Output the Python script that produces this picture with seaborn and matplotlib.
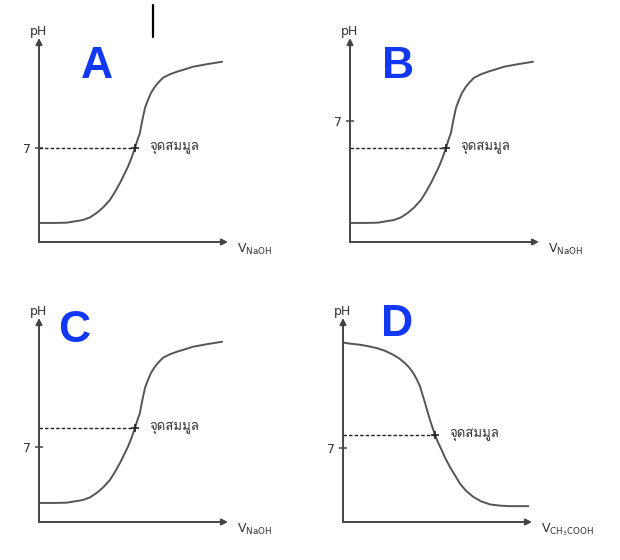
import matplotlib
matplotlib.use("Agg")
import matplotlib.pyplot as plt
import seaborn as sns
from matplotlib import font_manager
from matplotlib.lines import Line2D

# ---- data ----
panel_names = ["A", "B", "C", "D"]
x_titles = [r"V$_{\mathrm{NaOH}}$", r"V$_{\mathrm{NaOH}}$", r"V$_{\mathrm{NaOH}}$",
            r"V$_{\mathrm{CH_3COOH}}$"]

# rising curve (A, B, C): volume of titrant vs pH
v_rise = [0.0, 0.89, 1.54, 2.44, 2.83, 3.2, 3.56, 3.94, 4.22, 4.5, 4.72, 4.94,
          5.14, 5.33, 5.47, 5.61, 5.69, 5.78, 5.89, 6.06, 6.22, 6.44, 6.67, 6.89,
          7.28, 7.67, 8.11, 8.56, 9.33, 10.17]
ph_rise = [1.42, 1.42, 1.44, 1.64, 1.83, 2.16, 2.57, 3.13, 3.73, 4.4, 5.0, 5.6,
           6.27, 7.0, 7.6, 8.13, 8.73, 9.33, 10.0, 10.6, 11.1, 11.57, 11.94, 12.24,
           12.5, 12.69, 12.87, 13.06, 13.25, 13.43]

# falling curve (D)
v_fall = [0.0, 0.44, 0.94, 1.39, 1.87, 2.33, 2.79, 3.11, 3.44, 3.69, 3.91, 4.11,
          4.28, 4.42, 4.56, 4.69, 4.83, 4.97, 5.11, 5.28, 5.48, 5.69, 5.94, 6.22,
          6.5, 6.83, 7.24, 7.67, 8.17, 8.72, 9.28, 10.3]
ph_fall = [13.37, 13.28, 13.21, 13.1, 12.96, 12.76, 12.46, 12.2, 11.84, 11.49,
           11.09, 10.6, 10.1, 9.48, 8.86, 8.25, 7.61, 7.05, 6.49, 5.93, 5.37, 4.74,
           4.1, 3.48, 2.86, 2.33, 1.87, 1.54, 1.31, 1.22, 1.18, 1.18]

eq_v = [5.33, 5.33, 5.33, 5.11]
eq_ph = [7.0, 7.0, 7.0, 6.49]
seven_pos = [7.0, 9.0, 5.6, 5.5]
eq_label = "จุดสมมูล"

# ---- layout (pixels, origin of each panel's axes) ----
FIG_W, FIG_H = 620, 560
origins = [(39, 242), (350, 242), (39, 522), (343, 522)]
AX_W, AX_H = 189, 204
letter_pos = [(3.2, 13.05), (2.67, 13.1), (1.94, 14.3), (3.0, 14.7)]

sns.set_style("white")

thai_font = "DejaVu Sans"
for f in font_manager.fontManager.ttflist:
    if any(k in f.name for k in ["Thai", "Loma", "Garuda", "Waree", "Norasi",
                                 "Kinnari", "Sarabun", "Umpush", "Tlwg", "Laksaman"]):
        thai_font = f.name
        break
plt.rcParams["font.family"] = ["DejaVu Sans"]

AXIS_C = "#444444"
CURVE_C = "#555555"
TEXT_C = "#333333"
BLUE = "#1238F5"

fig = plt.figure(figsize=(FIG_W / 100, FIG_H / 100), dpi=100)

for i, name in enumerate(panel_names):
    ox, oy = origins[i]
    ax = fig.add_axes([ox / FIG_W, (FIG_H - oy) / FIG_H, AX_W / FIG_W, AX_H / FIG_H])
    ax.set_xlim(0, 10.5)
    ax.set_ylim(0, 15.2)
    ax.patch.set_alpha(0)
    for s in ax.spines.values():
        s.set_visible(False)

    if name == "D":
        xs, ys = v_fall, ph_fall
    else:
        xs, ys = v_rise, ph_rise
    sns.lineplot(x=xs, y=ys, ax=ax, color=CURVE_C, lw=1.4, sort=False)

    # axes arrows
    arrow = dict(arrowstyle="-|>", color=AXIS_C, lw=1.4, mutation_scale=9,
                 shrinkA=0, shrinkB=0)
    ax.annotate("", xy=(10.5, 0), xytext=(0, 0), arrowprops=arrow,
                annotation_clip=False)
    ax.annotate("", xy=(0, 15.2), xytext=(0, 0), arrowprops=arrow,
                annotation_clip=False)

    # equivalence point
    ax.hlines(eq_ph[i], 0, eq_v[i], colors="#222222", lw=1.0,
              linestyles=(0, (2.5, 1.5)))
    ax.plot([eq_v[i]], [eq_ph[i]], marker="+", ms=6, mew=1.2, color="#222222")
    ax.text(eq_v[i] + 0.8, eq_ph[i], eq_label, family=[thai_font, "DejaVu Sans"],
            fontsize=9.5, color=TEXT_C, ha="left", va="center")

    # tick "7"
    ax.set_xticks([])
    ax.set_yticks([seven_pos[i]])
    ax.set_yticklabels(["7"])
    ax.tick_params(axis="y", direction="inout", length=6, width=1.1,
                   color=AXIS_C, labelsize=9, labelcolor=TEXT_C, pad=3, left=True)

    ax.text(-0.05, 15.7, "pH", fontsize=9, color=TEXT_C, ha="center", va="center")
    ax.text(11.0, -0.8, x_titles[i], fontsize=9, color=TEXT_C, ha="left",
            va="baseline")

    lx, ly = letter_pos[i]
    ax.text(lx, ly, name, fontsize=32, fontweight="bold", color=BLUE,
            family="Liberation Sans", ha="center", va="center")

# stray cursor mark at the top of the picture
fig.add_artist(Line2D([153 / FIG_W, 153 / FIG_W], [1 - 5 / FIG_H, 1 - 37 / FIG_H],
                      color="black", lw=1.6))

fig.savefig("out.png", dpi=100)
